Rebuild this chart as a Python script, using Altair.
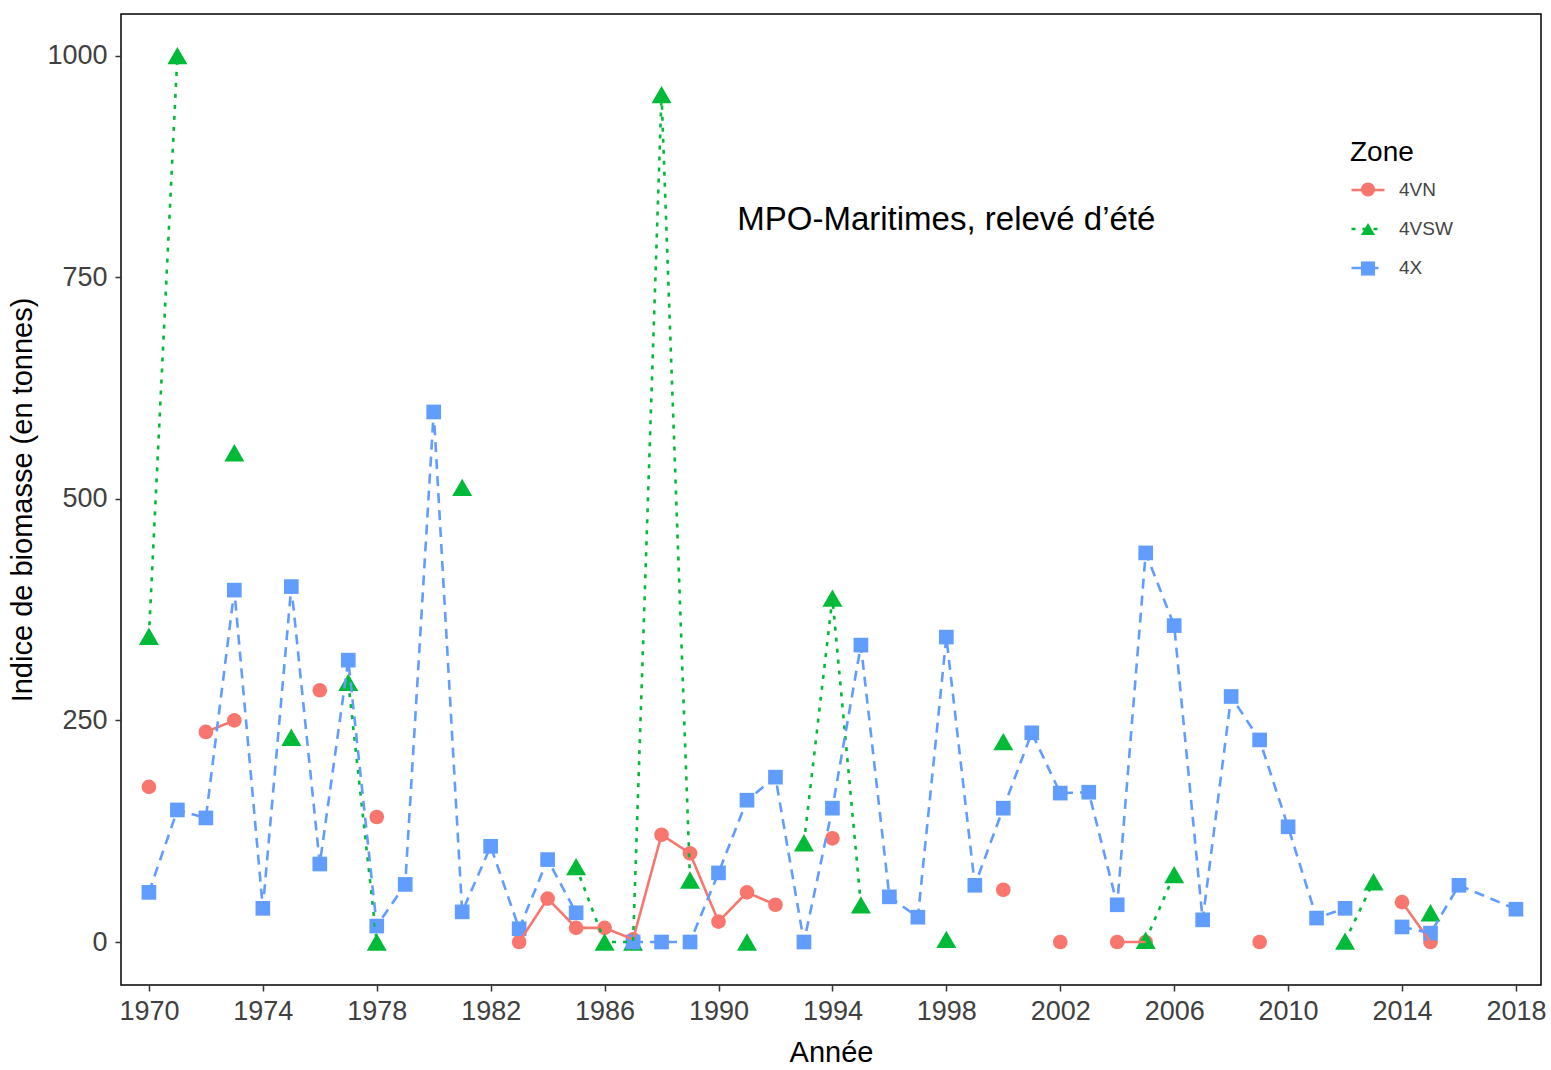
import altair as alt
import pandas as pd

# Survey years (one value per year, None = no estimate -> breaks the line)
years = list(range(1970, 2019))

zones = ["4VN", "4VSW", "4X"]
zone_colors = ["#F8766D", "#00BA38", "#619CFF"]

vn_values = [175, None, 237, 250, None, None, 284, None, 141, None,   # 1970-1979
             None, None, None, 0, 49, 16, 16, 3, 121, 100,            # 1980-1989
             23, 56, 42, None, 117, None, None, None, None, None,     # 1990-1999
             59, None, 0, None, 0, 0, None, None, None, 0,            # 2000-2009
             None, None, None, None, 45, 0, None, None, None]         # 2010-2018

vsw_values = [345, 1000, None, 552, None, 231, None, 293, 0, None,    # 1970-1979
              None, 513, None, None, None, 85, 0, 0, 956, 70,         # 1980-1989
              None, 0, None, 112, 388, 42, None, None, 3, None,       # 1990-1999
              226, None, None, None, None, 2, 76, None, None, None,   # 2000-2009
              None, None, 1, 68, None, 33, None, None, None]          # 2010-2018

# 4X has no row at all for 2017, so its line runs straight from 2016 to 2018
x4_years = [y for y in years if y != 2017]
x4_values = [56, 149, 140, 397, 38, 401, 88, 318, 18, 65,             # 1970-1979
             598, 34, 108, 15, 93, 33, None, 0, 0, 0,                 # 1980-1989
             78, 160, 186, 0, 151, 335, 51, 28, 344, 64,              # 1990-1999
             151, 236, 168, 169, 42, 439, 357, 25, 277, 228,          # 2000-2009
             130, 27, 38, None, 17, 10, 64, 37]                       # 2010-2016, 2018

x_ticks = list(range(1970, 2019, 4))
y_ticks = [0, 250, 500, 750, 1000]

series = [("4VN", years, vn_values), ("4VSW", years, vsw_values), ("4X", x4_years, x4_values)]

rows = []
seg = 0
for zone, yrs, vals in series:
    seg += 1
    for yr, v in zip(yrs, vals):
        if v is None:
            seg += 1
            continue
        rows.append({"year": yr, "value": v, "zone": zone, "seg": seg})
df = pd.DataFrame(rows)

FONT = "Liberation Sans"

x_enc = alt.X("year:Q", title="Année",
              scale=alt.Scale(domain=[1969.02, 2018.88], nice=False, zero=False),
              axis=alt.Axis(values=x_ticks, format="d", labelFlush=False))
y_enc = alt.Y("value:Q", title="Indice de biomasse (en tonnes)",
              scale=alt.Scale(domain=[-48.5, 1047], nice=False, zero=False),
              axis=alt.Axis(values=y_ticks, format="d"))

# Two legends stacked on the same spot: one draws the line styles with the
# title and labels, the other only the marker shapes on top of them.
line_legend = alt.Legend(
    orient="none", title="Zone", padding=0,
    legendX=1229, legendY=125, symbolType="stroke", symbolSize=1089,
    symbolStrokeWidth=2.5, rowPadding=11,
    titleFont=FONT, titleFontSize=28, titleFontWeight="normal", titleColor="black",
    titlePadding=5, labelFont=FONT, labelFontSize=19, labelColor="#444444",
    labelOffset=13,
)
point_legend = alt.Legend(
    orient="none", title=None, padding=0,
    legendX=1237.5, legendY=166, symbolSize=200, rowPadding=19.5,
    labelExpr="''", labelFont=FONT, labelFontSize=19, labelOffset=13,
)

points = alt.Chart(df).mark_point(filled=True, opacity=1).encode(
    x=x_enc, y=y_enc,
    color=alt.Color("zone:N", scale=alt.Scale(domain=zones, range=zone_colors), legend=point_legend),
    shape=alt.Shape("zone:N", scale=alt.Scale(domain=zones, range=["circle", "triangle-up", "square"]),
                    legend=point_legend),
    size=alt.condition(alt.datum.zone == "4VSW", alt.value(400), alt.value(215)),
)

lines = alt.Chart(df).mark_line(strokeWidth=2.6).encode(
    x=x_enc, y=y_enc,
    color=alt.Color("zone:N", scale=alt.Scale(domain=zones, range=zone_colors), legend=line_legend),
    strokeDash=alt.StrokeDash("zone:N", scale=alt.Scale(domain=zones, range=[[1, 0], [4, 7], [10, 7]]),
                              legend=line_legend),
    detail="seg:N",
    order="year:Q",
)

label_df = pd.DataFrame({"year": [1998], "value": [815], "label": ["MPO-Maritimes, relevé d’été"]})
label = alt.Chart(label_df).mark_text(
    font=FONT, fontSize=33, color="black", align="center", baseline="middle"
).encode(x="year:Q", y="value:Q", text="label:N")

chart = (
    alt.layer(points, lines, label)
    .resolve_scale(color="independent", shape="independent", strokeDash="independent")
    .properties(
        width=1420, height=971,
        autosize=alt.AutoSizeParams(type="none"),
        padding={"left": 121, "top": 14, "right": 10, "bottom": 85},
        background="white",
    )
    .configure_view(stroke="black", strokeWidth=1.5)
    .configure_axis(
        grid=False, domain=False,
        labelFont=FONT, labelFontSize=27, labelColor="#404040",
        titleFont=FONT, titleFontSize=29, titleFontWeight="normal", titleColor="black",
        tickColor="#333333", tickSize=6, tickWidth=1.5,
    )
    .configure_axisX(labelPadding=7, titlePadding=14)
    .configure_axisY(labelPadding=8, titlePadding=9)
)

chart.save("out.html", embed_options={"renderer": "svg", "actions": False})
